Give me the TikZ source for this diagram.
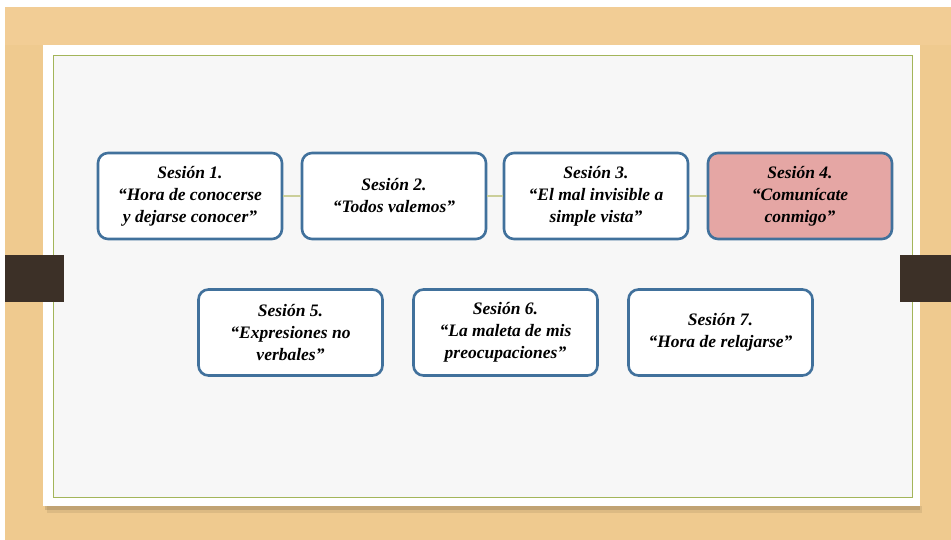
\documentclass[tikz,border=0pt]{standalone}
\usepackage{fontspec}
\setmainfont{Liberation Serif}
\usetikzlibrary{positioning}

\definecolor{wood}{HTML}{EFCA8F}
\definecolor{woodtop}{HTML}{F2CD95}
\definecolor{clipbrown}{HTML}{3C3027}
\definecolor{paper}{HTML}{F7F7F7}
\definecolor{frameline}{HTML}{A3B55A}
\definecolor{boxline}{HTML}{41719C}
\definecolor{linkline}{HTML}{CBCF9A}
\definecolor{hilite}{HTML}{E5A6A4}

\begin{document}
\begin{tikzpicture}[x=1pt, y=-1pt,
    session/.style={draw=boxline, line width=2.6pt, fill=white, rounded corners=10pt,
        minimum width=184pt, minimum height=86pt, align=center, inner sep=2pt,
        font=\fontsize{17.5}{22}\selectfont\bfseries\itshape},
    current/.style={session, fill=hilite},
    link/.style={draw=linkline, line width=1.2pt}]

    % Background and frame
    \useasboundingbox (0,0) rectangle (951,540);
    \fill[white] (0,0) rectangle (951,540);
    \fill[wood] (5,7) rectangle (951,540);
    \fill[woodtop] (5,7) rectangle (951,45);
    \fill[black, opacity=0.08] (47,506) rectangle (922,513);
    \fill[black, opacity=0.12] (45,506) rectangle (920,510);
    \fill[white] (43,45) rectangle (920,506);
    \fill[paper] (53,55) rectangle (912,497);
    \draw[frameline, line width=0.8pt] (53,55) rectangle (912,497);

    % Clips
    \fill[clipbrown] (5,255) rectangle (64,302);
    \fill[clipbrown] (900,255) rectangle (951,302);

    % Sessions
    \node[session] (s1) at (190,196) {Sesión 1.\\“Hora de conocerse\\y dejarse conocer”};
    \node[session] (s2) at (394,196) {Sesión 2.\\“Todos valemos”};
    \node[session] (s3) at (596,196) {Sesión 3.\\“El mal invisible a\\simple vista”};
    \node[current] (s4) at (800,196) {Sesión 4.\\“Comunícate\\conmigo”};
    \node[session] (s5) at (290.5,332.5) {Sesión 5.\\“Expresiones no\\verbales”};
    \node[session] (s6) at (505.5,332.5) {Sesión 6.\\“La maleta de mis\\preocupaciones”};
    \node[session] (s7) at (720.5,332.5) {Sesión 7.\\“Hora de relajarse”};

    % Links
    \draw[link] (s1) -- (s2);
    \draw[link] (s2) -- (s3);
    \draw[link] (s3) -- (s4);

\end{tikzpicture}
\end{document}
